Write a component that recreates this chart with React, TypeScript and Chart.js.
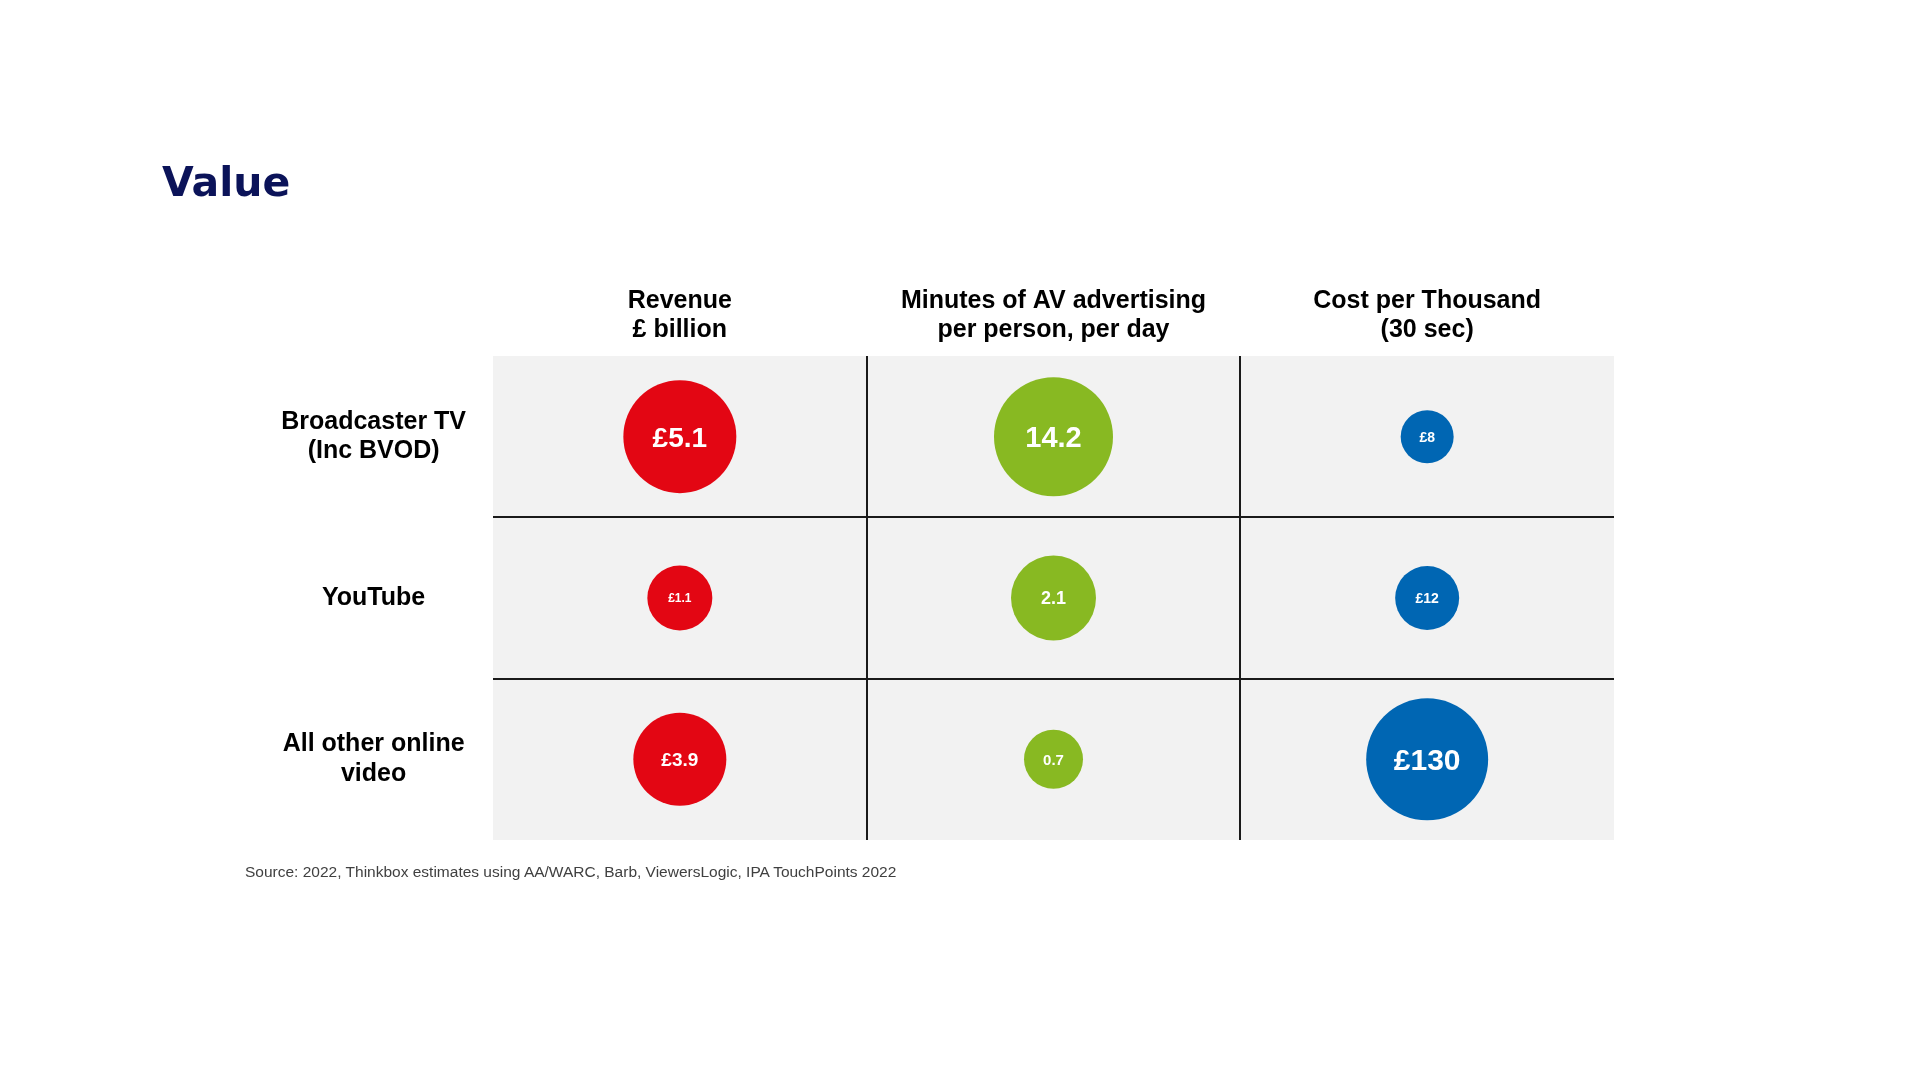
import React, { useEffect, useRef } from 'react';
import { Chart, registerables } from 'chart.js';

Chart.register(...registerables);

// ---- data ----
const TITLE = 'Value';
const SOURCE = 'Source: 2022, Thinkbox estimates using AA/WARC, Barb, ViewersLogic, IPA TouchPoints 2022';
const COLUMN_HEADERS: string[][] = [
  ['Revenue', '£ billion'],
  ['Minutes of AV advertising', 'per person, per day'],
  ['Cost per Thousand', '(30 sec)'],
];
const ROW_LABELS: string[][] = [
  ['Broadcaster TV', '(Inc BVOD)'],
  ['YouTube'],
  ['All other online', 'video'],
];
const REVENUE_BN = [5.1, 1.1, 3.9];
const AV_MINUTES = [14.2, 2.1, 0.7];
const CPT_GBP = [8, 12, 130];
const VALUE_PREFIX = ['£', '', '£'];

// ---- styles ----
const COLORS = ['#e30613', '#88b922', '#0066b3'];
const BUBBLE_RADIUS = [
  [56.5, 32.5, 46.5],
  [59.5, 42.5, 29.5],
  [26.5, 32, 61],
];
const LABEL_FONT_SIZE = [
  [28, 12, 19],
  [29, 18, 15],
  [14, 14, 30],
];
const FONT = '"Liberation Sans", Arial, Helvetica, sans-serif';

const COLUMN_KEYS = COLUMN_HEADERS.map((h) => h.join(' '));
const ROW_KEYS = ROW_LABELS.map((r) => r.join(' '));
const SERIES = [REVENUE_BN, AV_MINUTES, CPT_GBP];

const cellBackground = {
  id: 'cellBackground',
  beforeDraw(chart: any) {
    const { ctx, chartArea } = chart;
    ctx.save();
    ctx.fillStyle = '#f2f2f2';
    ctx.fillRect(chartArea.left, chartArea.top, chartArea.right - chartArea.left, chartArea.bottom - chartArea.top);
    ctx.restore();
  },
};

const bubbleLabels = {
  id: 'bubbleLabels',
  afterDatasetsDraw(chart: any) {
    const { ctx } = chart;
    ctx.save();
    ctx.fillStyle = '#ffffff';
    ctx.textAlign = 'center';
    ctx.textBaseline = 'alphabetic';
    chart.data.datasets.forEach((ds: any, c: number) => {
      const meta = chart.getDatasetMeta(c);
      meta.data.forEach((el: any, r: number) => {
        const size = LABEL_FONT_SIZE[c][r];
        ctx.font = `bold ${size}px ${FONT}`;
        const v = ds.data[r].v;
        ctx.fillText(`${VALUE_PREFIX[c]}${v}`, el.x, el.y + size * 0.358);
      });
    });
    ctx.restore();
  },
};

export default function App() {
  const canvasRef = useRef<HTMLCanvasElement>(null);

  useEffect(() => {
    const canvas = canvasRef.current;
    if (!canvas) return;
    const tickFont = { family: FONT, size: 25, weight: 'bold' as const, lineHeight: 1.18 };
    const chart = new Chart(canvas, {
      type: 'bubble',
      data: {
        datasets: SERIES.map((values, c) => ({
          label: COLUMN_KEYS[c],
          data: values.map((v, r) => ({ x: COLUMN_KEYS[c], y: ROW_KEYS[r], r: BUBBLE_RADIUS[c][r], v })) as any,
          backgroundColor: COLORS[c],
          borderWidth: 0,
          hoverRadius: 0,
        })),
      },
      options: {
        animation: false,
        responsive: false,
        events: [],
        layout: { padding: { left: 0, top: 0, right: 306, bottom: 240 } },
        plugins: { legend: { display: false }, tooltip: { enabled: false } },
        scales: {
          x: {
            type: 'category',
            labels: COLUMN_KEYS,
            position: 'top',
            offset: true,
            grid: {
              offset: true,
              drawTicks: false,
              lineWidth: 2,
              color: (ctx: any) => (ctx.index === 1 || ctx.index === 2 ? '#1a1a1a' : 'rgba(0,0,0,0)'),
            },
            border: { display: false },
            ticks: {
              callback: (_v: any, i: number) => COLUMN_HEADERS[i],
              font: tickFont,
              color: '#000000',
              padding: 11,
              maxRotation: 0,
              autoSkip: false,
            },
            afterFit: (s: any) => {
              s.height = 356;
            },
          },
          y: {
            type: 'category',
            labels: ROW_KEYS,
            position: 'left',
            offset: true,
            grid: {
              offset: true,
              drawTicks: false,
              lineWidth: 2,
              color: (ctx: any) => (ctx.index === 1 || ctx.index === 2 ? '#1a1a1a' : 'rgba(0,0,0,0)'),
            },
            border: { display: false },
            ticks: {
              callback: (_v: any, i: number) => ROW_LABELS[i],
              font: tickFont,
              color: '#000000',
              padding: 27,
              crossAlign: 'center',
              autoSkip: false,
            },
            afterFit: (s: any) => {
              s.width = 493;
            },
          },
        },
      } as any,
      plugins: [cellBackground, bubbleLabels],
    });
    return () => chart.destroy();
  }, []);

  return (
    <div style={{ position: 'absolute', left: 0, top: 0, width: 1920, height: 1080, background: '#ffffff', overflow: 'hidden' }}>
      <canvas ref={canvasRef} width={1920} height={1080} style={{ position: 'absolute', left: 0, top: 0, width: 1920, height: 1080 }} />
      <div
        style={{
          position: 'absolute',
          left: 162,
          top: 161,
          fontFamily: '"DejaVu Sans", sans-serif',
          fontWeight: 'bold',
          fontSize: 41,
          lineHeight: '42px',
          color: '#0b1359',
          whiteSpace: 'nowrap',
        }}
      >
        {TITLE}
      </div>
      <div
        style={{
          position: 'absolute',
          left: 245,
          top: 864,
          fontFamily: FONT,
          fontSize: 15.5,
          lineHeight: '16px',
          color: '#404040',
          whiteSpace: 'nowrap',
        }}
      >
        {SOURCE}
      </div>
    </div>
  );
}
